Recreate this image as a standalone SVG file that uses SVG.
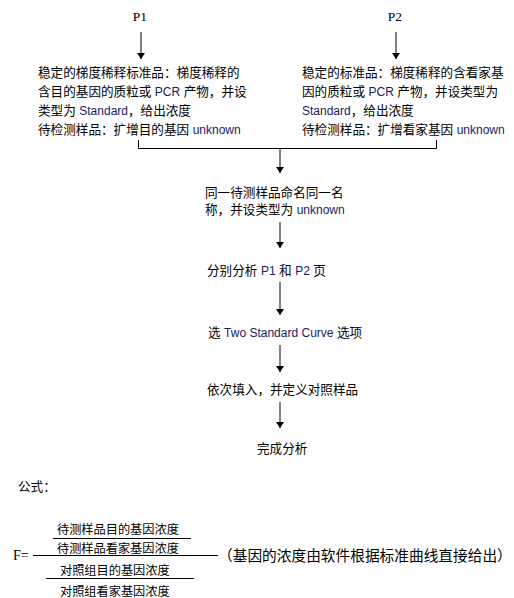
<svg xmlns="http://www.w3.org/2000/svg" width="514" height="598" viewBox="0 0 514 598">
<style>
text{font-family:"Liberation Sans","Noto Sans CJK SC",sans-serif;font-size:12.6px;fill:#000}
.serif{font-family:"Liberation Serif","Noto Serif CJK SC",serif;font-size:13.5px}
.en{fill:#1a1a5e;font-size:12px}
.f{font-size:12.2px}
.line{stroke:#000;stroke-width:1;fill:none}
</style>
<defs>
<marker id="ah" markerWidth="6" markerHeight="8" refX="6" refY="4" orient="auto" markerUnits="userSpaceOnUse" viewBox="0 0 6 8">
<path d="M0,0 L6,4 L0,8 z" fill="#000"/>
</marker>
</defs>
<rect width="514" height="598" fill="#fff"/>
<g id="connectors">
<line class="line" x1="141" y1="32" x2="141" y2="59" marker-end="url(#ah)"/>
<line class="line" x1="396" y1="32" x2="396" y2="59" marker-end="url(#ah)"/>
<polyline class="line" points="138.5,140 138.5,148.5 436.5,148.5 436.5,140"/>
<line class="line" x1="280" y1="148" x2="280" y2="173" marker-end="url(#ah)"/>
<line class="line" x1="280" y1="222" x2="280" y2="248" marker-end="url(#ah)"/>
<line class="line" x1="280" y1="282" x2="280" y2="315" marker-end="url(#ah)"/>
<line class="line" x1="280" y1="345" x2="280" y2="372" marker-end="url(#ah)"/>
<line class="line" x1="280" y1="402" x2="280" y2="428" marker-end="url(#ah)"/>
</g>
<g id="p1"><text class="serif" x="140" y="21" text-anchor="middle">P1</text></g>
<g id="p2"><text class="serif" x="395" y="21" text-anchor="middle">P2</text></g>
<g id="left-box">
<text x="38" y="77">稳定的梯度稀释标准品：梯度稀释的</text>
<text x="38" y="96">含目的基因的质粒或 <tspan class="en">PCR</tspan> 产物，并设</text>
<text x="38" y="115">类型为 <tspan class="en">Standard</tspan>，给出浓度</text>
<text x="38" y="134">待检测样品：扩增目的基因 <tspan class="en">unknown</tspan></text>
</g>
<g id="right-box">
<text x="302" y="77">稳定的标准品：梯度稀释的含看家基</text>
<text x="302" y="96">因的质粒或 <tspan class="en">PCR</tspan> 产物，并设类型为</text>
<text x="302" y="115"><tspan class="en">Standard</tspan>，给出浓度</text>
<text x="302" y="134">待检测样品：扩增看家基因 <tspan class="en">unknown</tspan></text>
</g>
<g id="step1">
<text x="205" y="197">同一待测样品命名同一名</text>
<text x="205" y="214">称，并设类型为 <tspan class="en">unknown</tspan></text>
</g>
<g id="step2"><text x="207" y="275">分别分析 <tspan class="en">P1</tspan> 和 <tspan class="en">P2</tspan> 页</text></g>
<g id="step3"><text x="208" y="337">选 <tspan class="en">Two Standard Curve</tspan> 选项</text></g>
<g id="step4"><text x="207" y="394">依次填入，并定义对照样品</text></g>
<g id="step5"><text x="257" y="453">完成分析</text></g>
<g id="formula">
<text x="18" y="491">公式：</text>
<text class="serif" x="13" y="560" style="font-size:14px">F=</text>
<line class="line" x1="33" y1="555.5" x2="218" y2="555.5"/>
<text class="f" x="57" y="534">待测样品目的基因浓度</text>
<line class="line" x1="53" y1="538.5" x2="191" y2="538.5"/>
<text class="f" x="57" y="553">待测样品看家基因浓度</text>
<text class="f" x="60" y="575">对照组目的基因浓度</text>
<line class="line" x1="46" y1="578.5" x2="194" y2="578.5"/>
<text class="f" x="60" y="596">对照组看家基因浓度</text>
<text x="218" y="561" style="font-size:14.7px">（基因的浓度由软件根据标准曲线直接给出）</text>
</g>
</svg>
